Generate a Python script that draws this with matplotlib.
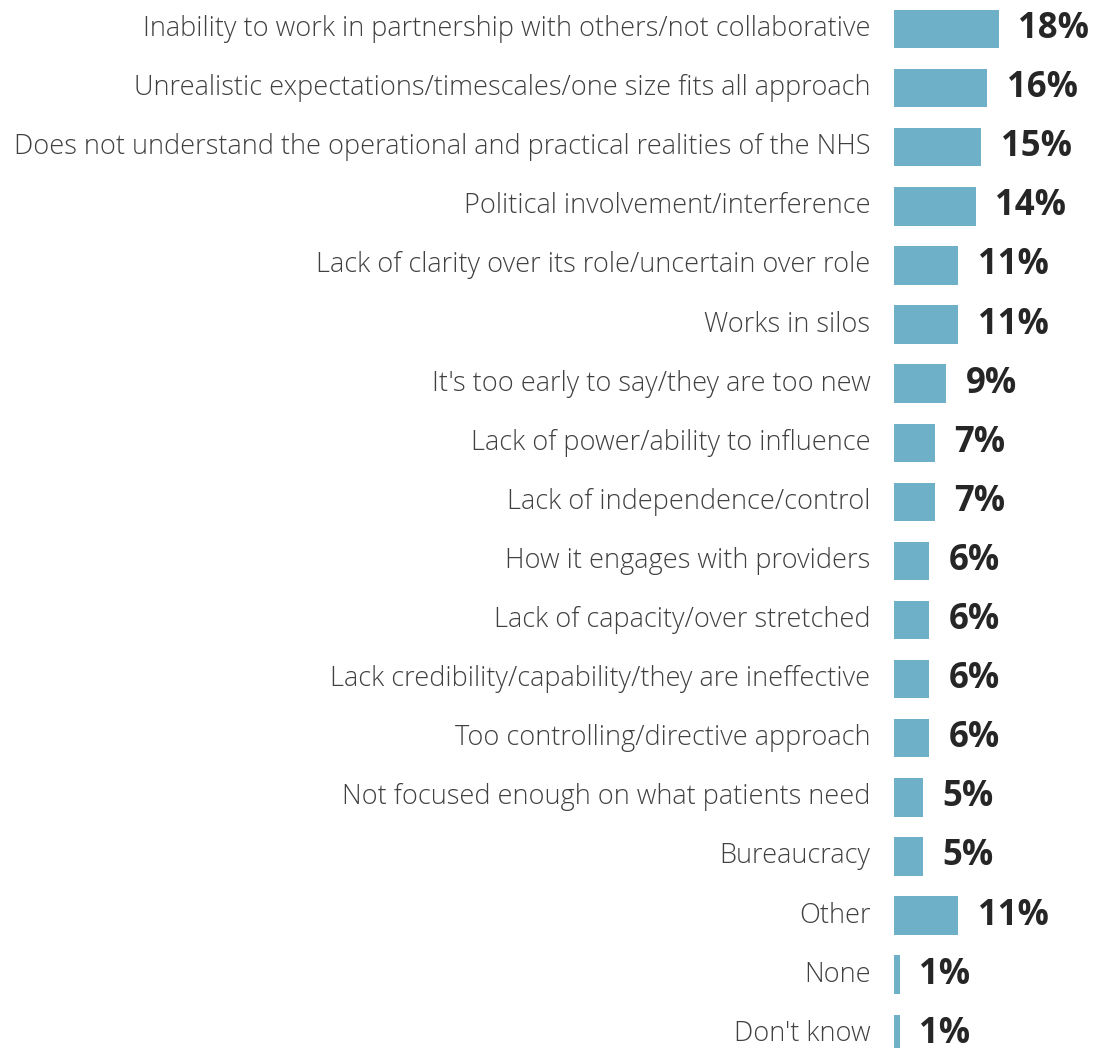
import matplotlib.pyplot as plt

# Reasons given (share of respondents, %)
categorias = [
    "Inability to work in partnership with others/not collaborative",
    "Unrealistic expectations/timescales/one size fits all approach",
    "Does not understand the operational and practical realities of the NHS",
    "Political involvement/interference",
    "Lack of clarity over its role/uncertain over role",
    "Works in silos",
    "It's too early to say/they are too new",
    "Lack of power/ability to influence",
    "Lack of independence/control",
    "How it engages with providers",
    "Lack of capacity/over stretched",
    "Lack credibility/capability/they are ineffective",
    "Too controlling/directive approach",
    "Not focused enough on what patients need",
    "Bureaucracy",
    "Other",
    "None",
    "Don't know",
]
valores = [18, 16, 15, 14, 11, 11, 9, 7, 7, 6, 6, 6, 6, 5, 5, 11, 1, 1]

color_barra = "#6fb0c9"
color_texto = "#404040"

fig = plt.figure(figsize=(10.97, 10.48), dpi=100)
ax = fig.add_axes([894 / 1097, 0, 203 / 1097, 1])

pos = list(range(len(categorias)))
ax.barh(pos, valores, height=0.65, color=color_barra, align="center")

ax.set_xlim(0, 203 / 5.83)
ax.set_ylim(17.24, -0.49)
ax.axis("off")

for y, (cat, v) in enumerate(zip(categorias, valores)):
    ax.annotate(cat, xy=(0, y), xytext=(-17, 0), textcoords="offset points",
                ha="right", va="center", fontsize=19.5, color=color_texto,
                family="Open Sans", fontweight="light", annotation_clip=False)
    ax.annotate(f"{v}%", xy=(v, y), xytext=(14, 0), textcoords="offset points",
                ha="left", va="center", fontsize=25, color="#262626",
                family="Open Sans", fontweight="bold", annotation_clip=False)

plt.savefig("out.png", dpi=100)
